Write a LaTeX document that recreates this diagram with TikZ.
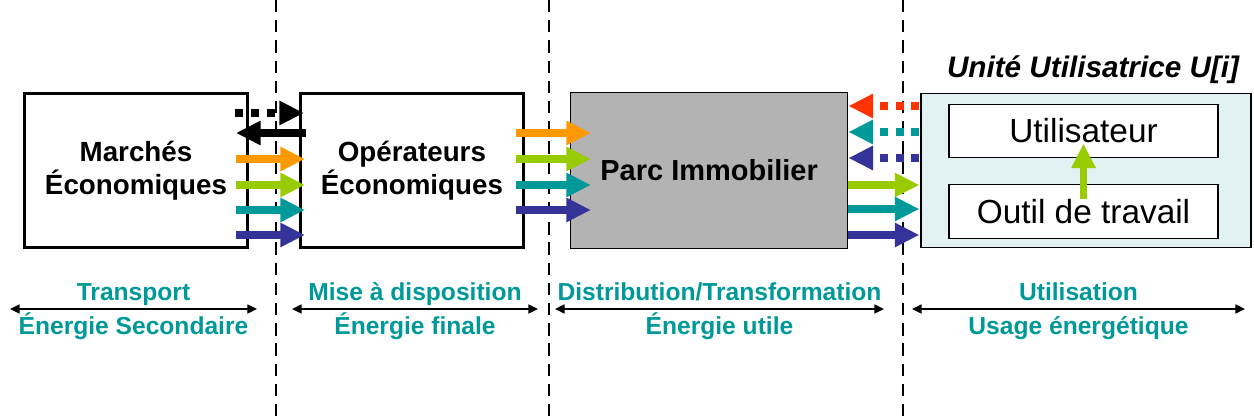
\documentclass[tikz,border=0pt]{standalone}
\usepackage{fontspec}
\setmainfont{Liberation Sans}
\usetikzlibrary{arrows.meta,positioning}

\definecolor{florange}{HTML}{FF9900}
\definecolor{flgreen}{HTML}{99CC00}
\definecolor{flteal}{HTML}{009999}
\definecolor{flnavy}{HTML}{333399}
\definecolor{flred}{HTML}{FF3300}
\definecolor{flgray}{HTML}{B3B3B3}
\definecolor{flpale}{HTML}{E2F2F2}

\begin{document}
\begin{tikzpicture}[x=0.02cm,y=-0.02cm,
    flbox/.style={draw=black,line width=1.7pt,minimum width=4.46cm,minimum height=3.08cm,
        align=center,font=\fontsize{15.8}{18.5}\selectfont\bfseries,inner sep=0pt},
    flinner/.style={draw=black,fill=white,line width=0.8pt,minimum width=5.38cm,
        minimum height=1.07cm,font=\fontsize{19}{22}\selectfont,inner sep=0pt},
    flarrow/.style={-{Triangle[length=14pt,width=13pt]},line width=4.3pt},
    fldot/.style={flarrow,dash pattern=on 4.5pt off 4.5pt},
    flsep/.style={line width=1.1pt,dash pattern=on 7pt off 4.5pt},
    flspan/.style={{Triangle[length=5.5pt,width=5pt]}-{Triangle[length=5.5pt,width=5pt]},line width=1.2pt},
    fllabel/.style={font=\fontsize{14}{16}\selectfont\bfseries,text=flteal,inner sep=0pt,anchor=base},
    fltop/.style={fllabel,yshift=0.18cm},
    flbot/.style={fllabel,yshift=-0.52cm}
]
\useasboundingbox (0,0) rectangle (1254,418);
% separators
\draw[flsep] (276,0) -- (276,418);
\draw[flsep] (549,0) -- (549,418);
\draw[flsep] (903,0) -- (903,418);

% boxes
\node[flbox] (mkt) at (136,170.5) {Marchés\\Économiques};
\node[flbox,right=1.0cm of mkt] (opr) {Opérateurs\\Économiques};
\node[flbox,fill=flgray,line width=0.6pt,minimum width=5.55cm,minimum height=3.12cm,
    font=\fontsize{16.5}{19}\selectfont\bfseries,right=0.9cm of opr] (park) {Parc Immobilier};
\node[flbox,fill=flpale,line width=0.8pt,minimum width=6.6cm,minimum height=3.08cm,
    right=1.44cm of park] (unit) {};
\node[flinner] (user) at (1083.5,131) {Utilisateur};
\node[flinner] (tool) at (1083.5,211.5) {Outil de travail};
\node[font=\fontsize{16.9}{19}\selectfont\bfseries\itshape] (unittitle) at (1093,70)
    {Unité Utilisatrice U[i]};
\draw[flarrow,flgreen] ([shift={(0,15)}]tool.north) -- ([shift={(0,-15)}]user.south);

% flows markets <-> operators
\draw[fldot,black] ([shift={(-14,-57.5)}]mkt.east) -- ([shift={(5,-57.5)}]opr.west);
\draw[flarrow,black] ([shift={(7,-37.5)}]opr.west) -- ([shift={(-13,-37.5)}]mkt.east);
\foreach \col/\dy in {florange/-11.5,flgreen/14.5,flteal/39.5,flnavy/64.5}
    \draw[flarrow,\col] ([shift={(-13,\dy)}]mkt.east) -- ([shift={(6,\dy)}]opr.west);

% flows operators -> park
\foreach \col/\dy in {florange/-37.5,flgreen/-11.5,flteal/14.5,flnavy/39.5}
    \draw[flarrow,\col] ([shift={(-9,\dy)}]opr.east) -- ([shift={(21,\dy)}]park.west);

% flows park <-> unit
\foreach \col/\dy in {flred/-64.5,flteal/-38.5,flnavy/-12.5}
    \draw[fldot,\col] ([shift={(-1,\dy)}]unit.west) -- ([shift={(0,\dy)}]park.east);
\foreach \col/\dy in {flgreen/14.5,flteal/38.5,flnavy/64.5}
    \draw[flarrow,\col] ([shift={(0,\dy)}]park.east) -- ([shift={(-1,\dy)}]unit.west);

% spans
\coordinate (sa1) at (10,309);   \coordinate (sb1) at (257,309);
\coordinate (sa2) at (292,309);  \coordinate (sb2) at (538,309);
\coordinate (sa3) at (555,309);  \coordinate (sb3) at (884,309);
\coordinate (sa4) at (912,309);  \coordinate (sb4) at (1245,309);
\draw[flspan] (sa1) -- node[fltop] (top1) {Transport}
    node[flbot] (bot1) {Énergie Secondaire} (sb1);
\draw[flspan] (sa2) -- node[fltop] (top2) {Mise à disposition}
    node[flbot] (bot2) {Énergie finale} (sb2);
\draw[flspan] (sa3) -- node[fltop] (top3) {Distribution/Transformation}
    node[flbot] (bot3) {Énergie utile} (sb3);
\draw[flspan] (sa4) -- node[fltop] (top4) {Utilisation}
    node[flbot] (bot4) {Usage énergétique} (sb4);
\end{tikzpicture}
\end{document}
